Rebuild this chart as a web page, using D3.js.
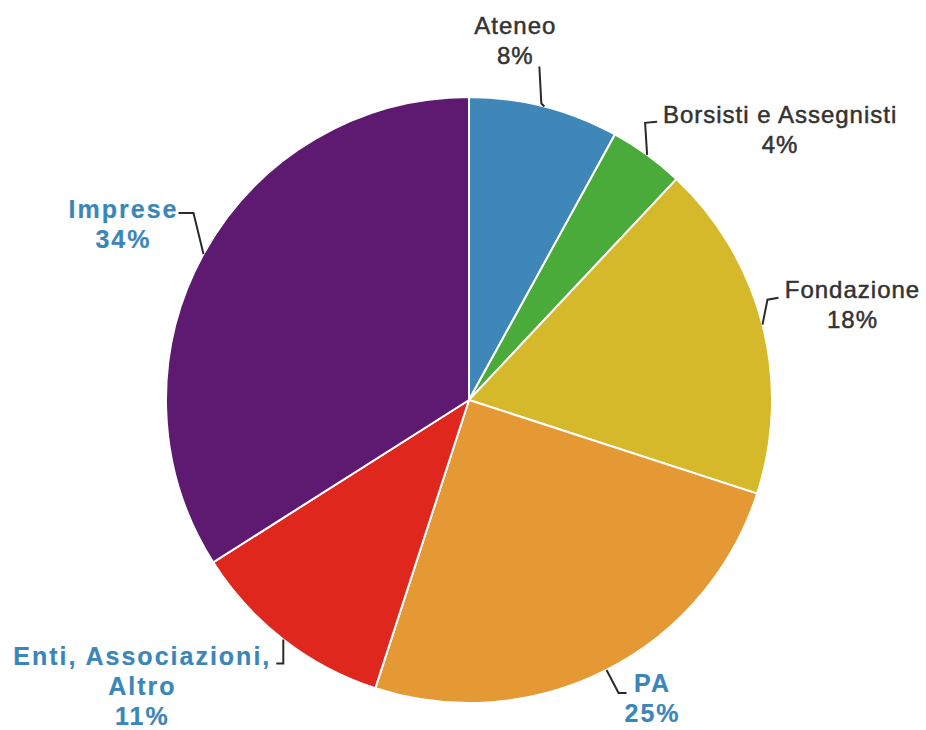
<!DOCTYPE html>
<html><head><meta charset="utf-8">
<script src="https://cdn.jsdelivr.net/npm/d3@7"></script>
<style>body{margin:0;background:#fff;}</style>
</head><body>
<svg id="chart" width="926" height="730"></svg>
<script>
const categories = ["Ateneo", "Borsisti e Assegnisti", "Fondazione", "PA", "Enti, Associazioni, Altro", "Imprese"];
const values = [8, 4, 18, 25, 11, 34];
const labelLines = [["Ateneo"], ["Borsisti e Assegnisti"], ["Fondazione"], ["PA"], ["Enti, Associazioni,", "Altro"], ["Imprese"]];
const colors = ["#3e87b8", "#4aaa3a", "#d6b92a", "#e59934", "#e0271e", "#5e1971"];

// layout (offsets from slice-edge anchor)
const layout = [
  {elbow:[-3,-3], end:[-5,-40], text:[-29,-73], bold:false},
  {elbow:[-2,-32], end:[10,-33], text:[133,-32], bold:false},
  {elbow:[5,-25], end:[16,-27], text:[90,-27], bold:false},
  {elbow:[12,23], end:[20,23], text:[46,22], bold:true},
  {elbow:[0,24], end:[-7,24], text:[-141,26], bold:true},
  {elbow:[-10,-41], end:[-25,-41], text:[-80,-36], bold:true}
];

const W = 926, H = 730, cx = 469, cy = 400, R = 303;
const svg = d3.select("#chart");
const g = svg.append("g").attr("transform", `translate(${cx},${cy})`);

const pie = d3.pie().sort(null).value(d => d)(values);
const arc = d3.arc().innerRadius(0).outerRadius(R);
const edge = d3.arc().innerRadius(R).outerRadius(R);

g.selectAll("path.slice").data(pie).enter().append("path")
  .attr("class", "slice")
  .attr("d", arc)
  .attr("fill", (d, i) => colors[i])
  .attr("stroke", "#ffffff")
  .attr("stroke-width", 2);

pie.forEach((d, i) => {
  const a = edge.centroid(d);
  const L = layout[i];
  const pts = [a, [a[0] + L.elbow[0], a[1] + L.elbow[1]], [a[0] + L.end[0], a[1] + L.end[1]]];
  g.append("path")
    .attr("d", d3.line()(pts))
    .attr("fill", "none")
    .attr("stroke", "#2a2a2a")
    .attr("stroke-width", 2);
  const lines = labelLines[i].concat([values[i] + "%"]);
  const col = L.bold ? "#3b86b9" : "#333333";
  const t = g.append("text")
    .attr("text-anchor", "middle")
    .attr("font-family", "'Liberation Sans', Arial, sans-serif")
    .attr("font-size", L.bold ? 25 : 24)
    .attr("font-weight", L.bold ? "bold" : "normal")
    .attr("letter-spacing", L.bold ? 2 : 1)
    .attr("fill", col)
    .attr("stroke", col)
    .attr("stroke-width", L.bold ? 0.2 : 0.5);
  lines.forEach((s, k) => {
    t.append("tspan")
      .attr("x", a[0] + L.text[0])
      .attr("y", a[1] + L.text[1] + k * 30)
      .text(s);
  });
});
</script>
</body></html>
